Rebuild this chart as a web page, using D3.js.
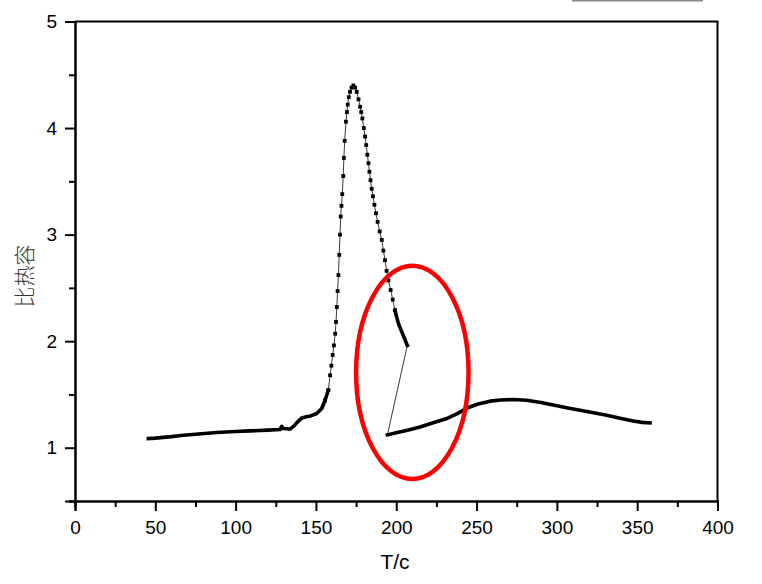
<!DOCTYPE html>
<html><head><meta charset="utf-8">
<script src="https://cdn.jsdelivr.net/npm/d3@7"></script>
<style>body{margin:0;background:#fff}svg{display:block}</style>
</head><body>
<svg id="c" width="762" height="584"></svg>
<script>
// Heating run (first branch), temperature / specific heat
const tempA = [45.7, 50, 55, 60, 67.4, 75, 88.2, 100, 109, 120, 127.6, 128.7, 129.7, 133.9, 136, 138, 141.2, 144, 146.3, 150.5, 153.6, 155.7, 157.7,
  158.8, 159.6, 160.4, 161.2, 162, 162.5, 163, 163.5, 164, 164.5, 165, 165.4, 165.9, 166.4, 167, 167.4, 167.9, 168.7, 169.3, 169.8, 170.5, 171.2, 172.2, 173.3,
  174.4, 175.4, 176.5, 177.5, 178.2, 178.9, 179.8, 180.6, 181.3, 182, 182.7, 183.3, 184, 184.7, 185.5, 186.4, 187.4, 188.4, 189.7, 191, 192, 193, 194, 195.1,
  196.5, 197.8, 199.2, 200.7, 202, 203.4, 205, 206.9];
const cpA = [1.086, 1.09, 1.097, 1.104, 1.117, 1.126, 1.143, 1.152, 1.158, 1.165, 1.171, 1.20, 1.18, 1.175, 1.20, 1.233, 1.28, 1.29, 1.296, 1.321, 1.368, 1.445, 1.54,
  1.68, 1.77, 1.87, 1.96, 2.07, 2.18, 2.32, 2.47, 2.62, 2.81, 3.0, 3.17, 3.27, 3.38, 3.55, 3.72, 3.88, 4.06, 4.15, 4.22, 4.29, 4.34, 4.38, 4.40,
  4.38, 4.34, 4.27, 4.2, 4.15, 4.09, 4.0, 3.92, 3.84, 3.75, 3.67, 3.59, 3.51, 3.43, 3.36, 3.28, 3.2, 3.12, 3.03, 2.95, 2.85, 2.76, 2.66, 2.57,
  2.48, 2.39, 2.29, 2.20, 2.14, 2.09, 2.03, 1.96];
// Second branch
const tempB = [194.5, 200, 207, 214.8, 222, 231.4, 238, 244.9, 251, 258.4, 265, 272.9, 281.2, 290, 297.8, 306, 314.4, 322, 331, 340, 347.6, 353, 358];
const cpB = [1.12, 1.14, 1.165, 1.195, 1.23, 1.274, 1.32, 1.378, 1.41, 1.437, 1.448, 1.452, 1.445, 1.425, 1.40, 1.375, 1.352, 1.33, 1.305, 1.275, 1.25, 1.238, 1.233];
// Axis ticks
const xTicks = [0, 50, 100, 150, 200, 250, 300, 350, 400];
const xMinor = [25, 75, 125, 175, 225, 275, 325, 375];
const yTicks = [1, 2, 3, 4, 5];
const yMinor = [0.5, 1.5, 2.5, 3.5, 4.5];
// Annotation ellipse (centre in data units, radii in data units)
const ellipseCenter = [210, 1.707];
const ellipseRadii = [35, 1.0];

const svg = d3.select("#c");
const x = d3.scaleLinear().domain([0, 400]).range([75, 717.5]);
const y = d3.scaleLinear().domain([0.5, 5]).range([501, 21.5]);
const font = "'Liberation Sans', Arial, sans-serif";

// stray grey line at top
svg.append("line").attr("x1", 572).attr("x2", 703).attr("y1", 0.5).attr("y2", 0.5)
  .attr("stroke", "#888").attr("stroke-width", 2);

// frame
svg.append("path").attr("d", `M${x(0)},${y(5)}H${x(400)}V${y(0.5)}`)
  .attr("fill", "none").attr("stroke", "#000").attr("stroke-width", 2);

// axes
const gx = svg.append("g").attr("transform", `translate(0,${y(0.5)})`)
  .call(d3.axisBottom(x).tickValues(xTicks).tickSize(10).tickPadding(8).tickFormat(d3.format("d")));
const gxm = svg.append("g").attr("transform", `translate(0,${y(0.5)})`)
  .call(d3.axisBottom(x).tickValues(xMinor).tickSize(6).tickFormat(""));
const gy = svg.append("g").attr("transform", `translate(${x(0)},0)`)
  .call(d3.axisLeft(y).tickValues(yTicks).tickSize(10).tickPadding(8).tickFormat(d3.format("d")));
const gym = svg.append("g").attr("transform", `translate(${x(0)},0)`)
  .call(d3.axisLeft(y).tickValues(yMinor).tickSize(6).tickFormat(""));
[gx, gxm, gy, gym].forEach(g => {
  g.selectAll(".domain").attr("stroke", "#000").attr("stroke-width", 2);
  g.selectAll(".tick line").attr("stroke", "#000").attr("stroke-width", 2);
  g.selectAll(".tick text").attr("font-family", font).attr("font-size", 19).attr("fill", "#000");
});
gx.selectAll(".tick text").attr("dy", "0.8em");

// axis titles
svg.append("text").attr("x", 395).attr("y", 569).attr("text-anchor", "middle")
  .attr("font-family", font).attr("font-size", 21).text("T/c");
svg.append("text").attr("transform", "translate(32,276) rotate(-90)").attr("text-anchor", "middle")
  .attr("font-family", "'Noto Sans CJK SC', sans-serif").attr("font-weight", 300).attr("font-size", 21).attr("fill", "#333").text("比热容");

// data
const A = tempA.map((t, i) => [t, cpA[i]]);
const B = tempB.map((t, i) => [t, cpB[i]]);
const line = d3.line().x(d => x(d[0])).y(d => y(d[1]));

// thin connecting line through everything
svg.append("path").datum(A.concat(B)).attr("d", line)
  .attr("fill", "none").attr("stroke", "#222").attr("stroke-width", 0.9);

// dense (merged marker) parts
const denseA1 = A.filter(d => d[0] <= 157.7);
const denseA2 = A.filter(d => d[0] >= 199.2);
[denseA1, denseA2, B].forEach(seg => {
  svg.append("path").datum(seg).attr("d", line)
    .attr("fill", "none").attr("stroke", "#000").attr("stroke-width", 3.6)
    .attr("stroke-linejoin", "round").attr("stroke-linecap", "square");
});

// square markers in the peak region
svg.append("g").selectAll("rect").data(A.filter(d => d[0] > 155 && d[0] < 200)).join("rect")
  .attr("x", d => x(d[0]) - 1.9).attr("y", d => y(d[1]) - 1.9)
  .attr("width", 3.8).attr("height", 3.8).attr("fill", "#000");

// red annotation ellipse
svg.append("ellipse")
  .attr("cx", x(ellipseCenter[0])).attr("cy", y(ellipseCenter[1]))
  .attr("rx", x(ellipseCenter[0] + ellipseRadii[0]) - x(ellipseCenter[0]))
  .attr("ry", y(ellipseCenter[1]) - y(ellipseCenter[1] + ellipseRadii[1]))
  .attr("fill", "none").attr("stroke", "#ff0000").attr("stroke-width", 4.5);
</script>
</body></html>
